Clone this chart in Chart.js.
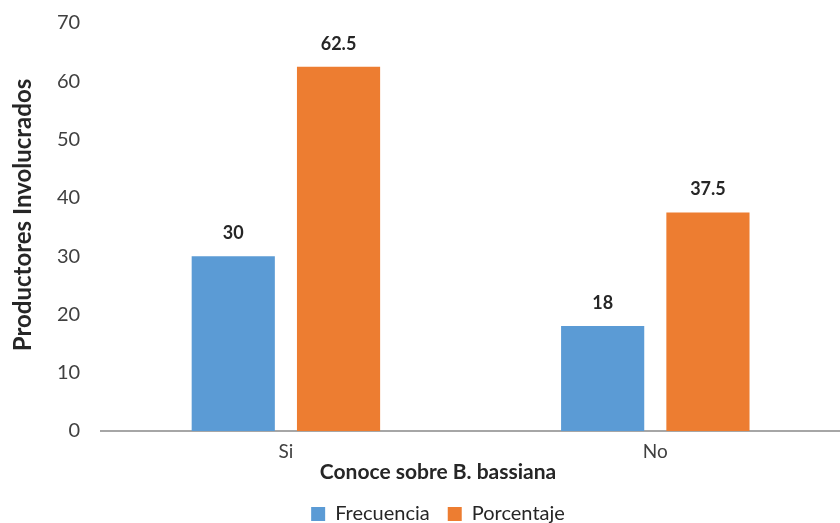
<!DOCTYPE html>
<html>
<head>
<meta charset="utf-8">
<script src="https://cdn.jsdelivr.net/npm/chart.js@4.4.1/dist/chart.umd.min.js"></script>
<style>
  body { margin: 0; background: #fff; }
  #wrap { width: 840px; height: 523px; }
</style>
</head>
<body>
<div id="wrap"><canvas id="chart" width="840" height="523"></canvas></div>
<script>
const categories = ['Si', 'No'];
const frecuencia = [30, 18];
const porcentaje = [62.5, 37.5];
const seriesNames = ['Frecuencia', 'Porcentaje'];
const yTitle = 'Productores Involucrados';
const xTitle = 'Conoce sobre B. bassiana';

const FONT = 'Lato, "Open Sans", sans-serif';

// etiquetas encima de cada barra
const barLabels = {
    id: 'barLabels',
    afterDatasetsDraw(chart) {
        const ctx = chart.ctx;
        ctx.save();
        ctx.font = `bold 18px ${FONT}`;
        ctx.fillStyle = '#262626';
        ctx.textAlign = 'center';
        ctx.textBaseline = 'middle';
        chart.data.datasets.forEach((ds, i) => {
            chart.getDatasetMeta(i).data.forEach((bar, j) => {
                ctx.fillText(String(ds.data[j]), bar.x, bar.y - 23);
            });
        });
        ctx.restore();
    }
};

// titulo del eje y, un poco por encima del centro como en el original
const yAxisTitle = {
    id: 'yAxisTitle',
    afterDraw(chart) {
        const ctx = chart.ctx;
        const area = chart.chartArea;
        ctx.save();
        ctx.translate(23, (area.top + area.bottom) / 2 - 12);
        ctx.rotate(-Math.PI / 2);
        ctx.font = `bold 24px ${FONT}`;
        ctx.fillStyle = '#262626';
        ctx.textAlign = 'center';
        ctx.textBaseline = 'middle';
        ctx.fillText(yTitle, 0, 0);
        ctx.restore();
    }
};

new Chart(document.getElementById('chart'), {
    type: 'bar',
    data: {
        labels: categories,
        datasets: [
            { label: seriesNames[0], data: frecuencia, backgroundColor: '#5B9BD5', categoryPercentage: 0.57, barPercentage: 0.79 },
            { label: seriesNames[1], data: porcentaje, backgroundColor: '#ED7D31', categoryPercentage: 0.57, barPercentage: 0.79 }
        ]
    },
    options: {
        responsive: false,
        animation: false,
        layout: { padding: { top: 23, right: 0, bottom: -11, left: 36 } },
        plugins: {
            legend: {
                position: 'bottom',
                weight: 1000,
                labels: { font: { family: FONT, size: 20 }, color: '#262626', boxWidth: 14, boxHeight: 14, padding: 18 }
            },
            title: {
                display: true,
                position: 'bottom',
                weight: 500,
                text: xTitle,
                font: { family: FONT, size: 21, weight: 'bold' },
                color: '#262626',
                padding: { top: -12, bottom: 1 }
            },
            tooltip: { enabled: false }
        },
        scales: {
            x: {
                grid: { display: false, drawTicks: false },
                border: { color: '#A6A6A6', width: 2 },
                ticks: { font: { family: FONT, size: 19 }, color: '#404040', padding: 9 }
            },
            y: {
                min: 0,
                max: 70,
                ticks: { stepSize: 10, font: { family: FONT, size: 20 }, color: '#404040', padding: 21 },
                grid: { display: false, drawTicks: false },
                border: { display: false },
                afterFit: (scale) => { scale.paddingTop = 0; }
            }
        }
    },
    plugins: [barLabels, yAxisTitle]
});
</script>
</body>
</html>
